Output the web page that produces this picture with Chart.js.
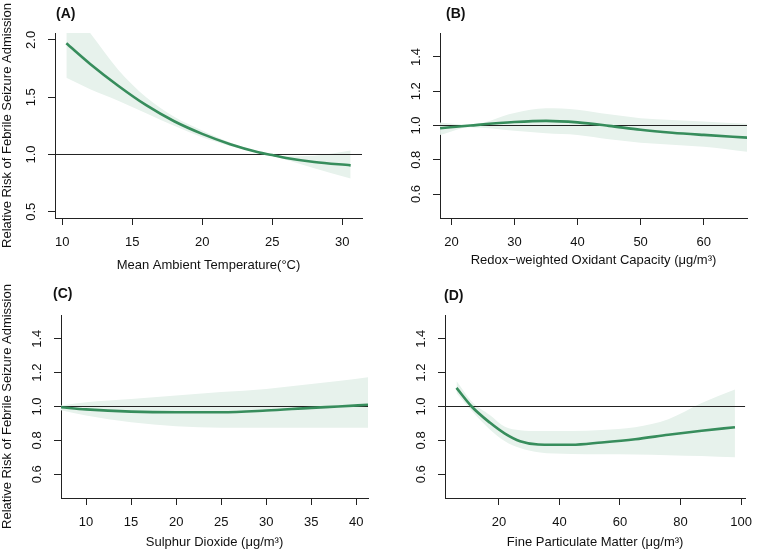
<!DOCTYPE html>
<html>
<head>
<meta charset="utf-8">
<script src="https://cdn.jsdelivr.net/npm/chart.js@4.4.1/dist/chart.umd.min.js"></script>
<style>
  html, body { margin: 0; padding: 0; background: #fff; }
  #page { position: relative; width: 762px; height: 553px; overflow: hidden; }
  #page canvas { position: absolute; left: 0; top: 0; }
  .tag { position: absolute; font: bold 14px "Liberation Sans", Arial, sans-serif; line-height: 1; color: #111; }
</style>
</head>
<body>
<div id="page">
  <canvas id="chartA" width="762" height="553"></canvas>
  <canvas id="chartB" width="762" height="553"></canvas>
  <canvas id="chartC" width="762" height="553"></canvas>
  <canvas id="chartD" width="762" height="553"></canvas>
  <div class="tag" style="left:56px;top:6px">(A)</div>
  <div class="tag" style="left:446px;top:6px">(B)</div>
  <div class="tag" style="left:53px;top:286px">(C)</div>
  <div class="tag" style="left:444px;top:288px">(D)</div>
</div>
<script>
// (A) mean ambient temperature
const tempX = [10.3, 12, 14, 16, 18, 20, 22, 24, 25, 26, 28, 30.6];
const tempRR = [1.97, 1.79, 1.60, 1.43, 1.29, 1.18, 1.09, 1.02, 0.995, 0.97, 0.935, 0.905];
const tempLow = [1.67, 1.57, 1.47, 1.36, 1.25, 1.15, 1.075, 1.015, 0.99, 0.955, 0.88, 0.79];
const tempHigh = [2.32, 2.06, 1.74, 1.50, 1.33, 1.21, 1.105, 1.025, 1.0, 0.985, 0.99, 1.035];
const tempTicksX = [10, 15, 20, 25, 30];
const tempTicksY = [0.5, 1.0, 1.5, 2.0];

// (B) redox-weighted oxidant capacity
const oxX = [18.2, 23, 30, 35, 40, 45, 50, 55, 60, 66.9];
const oxRR = [0.984, 1.0, 1.02, 1.027, 1.018, 0.998, 0.975, 0.958, 0.945, 0.929];
const oxLow = [0.945, 0.99, 0.969, 0.955, 0.945, 0.92, 0.90, 0.888, 0.876, 0.847];
const oxHigh = [1.018, 1.005, 1.073, 1.10, 1.092, 1.065, 1.043, 1.032, 1.024, 1.01];
const oxTicksX = [20, 30, 40, 50, 60];

// (C) sulphur dioxide
const so2X = [7.2, 10, 15, 20, 25, 30, 35, 38, 41.3];
const so2RR = [0.996, 0.983, 0.97, 0.966, 0.966, 0.976, 0.992, 1.0, 1.01];
const so2Low = [0.978, 0.947, 0.907, 0.883, 0.875, 0.874, 0.874, 0.874, 0.874];
const so2High = [1.006, 1.025, 1.045, 1.065, 1.085, 1.104, 1.133, 1.15, 1.173];
const so2TicksX = [10, 15, 20, 25, 30, 35, 40];

// (D) fine particulate matter
const pmX = [6, 11, 17, 22, 27, 33, 44, 54, 65, 76, 87, 98];
const pmRR = [1.11, 1.0, 0.905, 0.84, 0.795, 0.776, 0.774, 0.788, 0.807, 0.833, 0.857, 0.878];
const pmLow = [1.08, 0.975, 0.865, 0.795, 0.755, 0.73, 0.72, 0.718, 0.717, 0.713, 0.708, 0.70];
const pmHigh = [1.15, 1.03, 0.95, 0.88, 0.86, 0.855, 0.855, 0.862, 0.878, 0.925, 1.02, 1.10];
const pmTicksX = [20, 40, 60, 80, 100];

const rrTicksY = [0.6, 0.8, 1.0, 1.2, 1.4];
const yTitle = 'Relative Risk of Febrile Seizure Admission';

const GREEN = '#378d5c';
const BAND = '#e7f2ec';
const AXIS = '#222';

Chart.defaults.font.family = '"Liberation Sans", Arial, Helvetica, sans-serif';
Chart.defaults.font.size = 13;
Chart.defaults.color = '#111';

function pts(xs, ys) {
  return xs.map((x, i) => ({x: x, y: ys[i]}));
}

function panel(id, p) {
  const XH = 55;
  new Chart(document.getElementById(id), {
    type: 'line',
    data: {
      datasets: [
        {data: pts(p.x, p.rr), borderColor: GREEN, borderWidth: 2.6, pointRadius: 0, fill: false, cubicInterpolationMode: 'monotone'},
        {data: [{x: p.xmin, y: 1}, {x: p.xmax, y: 1}], borderColor: AXIS, borderWidth: 1, pointRadius: 0, fill: false},
        {data: pts(p.x, p.high), borderWidth: 0, pointRadius: 0, fill: '+1', backgroundColor: BAND, cubicInterpolationMode: 'monotone'},
        {data: pts(p.x, p.low), borderWidth: 0, pointRadius: 0, fill: false, cubicInterpolationMode: 'monotone'}
      ]
    },
    options: {
      responsive: false,
      animation: false,
      events: [],
      layout: {
        padding: {left: p.left - p.yw, top: p.top, right: 762 - p.right, bottom: 553 - p.bottom - XH}
      },
      plugins: {
        legend: {display: false},
        tooltip: {enabled: false},
        filler: {drawTime: 'beforeDatasetsDraw'}
      },
      scales: {
        x: {
          type: 'linear',
          min: p.xmin,
          max: p.xmax,
          afterBuildTicks: s => { s.ticks = p.ticksX.map(v => ({value: v})); },
          afterFit: s => { s.height = XH; },
          grid: {drawOnChartArea: false, tickLength: 7, color: AXIS},
          border: {color: AXIS, width: 1},
          ticks: {padding: 10, maxRotation: 0, autoSkip: false},
          title: {display: true, text: p.xTitle, padding: {top: 0, bottom: p.titlePad}}
        },
        y: {
          type: 'linear',
          min: p.ymin,
          max: p.ymax,
          afterBuildTicks: s => { s.ticks = p.ticksY.map(v => ({value: v})); },
          afterFit: s => { s.width = p.yw; },
          grid: {drawOnChartArea: false, tickLength: 7, color: AXIS},
          border: {color: AXIS, width: 1},
          ticks: {padding: 8, minRotation: 90, maxRotation: 90, crossAlign: 'center', callback: v => v.toFixed(1)},
          title: {display: p.showY, text: yTitle, padding: {top: 0, bottom: 0}}
        }
      }
    }
  });
}

panel('chartA', {
  x: tempX, rr: tempRR, low: tempLow, high: tempHigh, ticksX: tempTicksX, ticksY: tempTicksY,
  xmin: 9.49, xmax: 31.41, ymin: 0.446, ymax: 2.06,
  left: 55, right: 362, top: 33, bottom: 218, yw: 55, titlePad: 0, showY: true,
  xTitle: 'Mean Ambient Temperature(°C)'
});
panel('chartB', {
  x: oxX, rr: oxRR, low: oxLow, high: oxHigh, ticksX: oxTicksX, ticksY: rrTicksY,
  xmin: 18.19, xmax: 66.87, ymin: 0.46, ymax: 1.54,
  left: 440, right: 747, top: 33, bottom: 218, yw: 60, titlePad: 5, showY: false,
  xTitle: 'Redox\u2212weighted Oxidant Capacity (\u03bcg/m\u00b3)'
});
panel('chartC', {
  x: so2X, rr: so2RR, low: so2Low, high: so2High, ticksX: so2TicksX, ticksY: rrTicksY,
  xmin: 7.22, xmax: 41.3, ymin: 0.46, ymax: 1.54,
  left: 61, right: 368, top: 315, bottom: 498, yw: 61, titlePad: 3, showY: true,
  xTitle: 'Sulphur Dioxide (\u03bcg/m\u00b3)'
});
panel('chartD', {
  x: pmX, rr: pmRR, low: pmLow, high: pmHigh, ticksX: pmTicksX, ticksY: rrTicksY,
  xmin: 2.2, xmax: 101.4, ymin: 0.46, ymax: 1.54,
  left: 445, right: 752, top: 315, bottom: 498, yw: 60, titlePad: 3, showY: false,
  xTitle: 'Fine Particulate Matter (\u03bcg/m\u00b3)'
});
</script>
</body>
</html>
